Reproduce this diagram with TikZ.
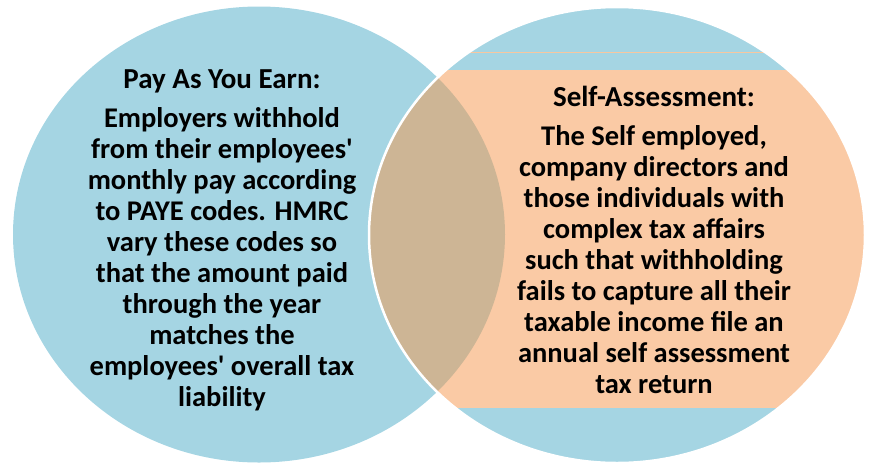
\documentclass[tikz,border=0pt]{standalone}
\usepackage{fontspec}
\setmainfont{Carlito}
\definecolor{vennblue}{HTML}{A5D5E3}
\definecolor{vennorange}{HTML}{FACAA5}
\definecolor{venntan}{HTML}{CDB595}
\definecolor{bandline}{HTML}{F7C7A0}
\begin{document}
\begin{tikzpicture}[x=1pt,y=-1pt,
  bodytext/.style={font=\bfseries\fontsize{28.5}{31}\selectfont, align=center, inner sep=0pt, text=black},
  headtext/.style={font=\bfseries\fontsize{29}{31}\selectfont, inner sep=0pt, text=black},
  setedge/.style={draw=white, line width=2.5pt}]
\useasboundingbox (0,0) rectangle (873,464);

% the two sets
\coordinate (paye) at (259,234.5);
\coordinate (sa) at (617,235);
\def\leftset{(paye) ellipse [x radius=246pt, y radius=228pt]}
\def\rightset{(sa) ellipse [x radius=248pt, y radius=228pt]}

\fill[vennblue] \leftset;
\fill[vennblue] \rightset;

% orange band and thin rule inside the right set
\begin{scope}
  \clip \rightset;
  \fill[vennorange] (360,70) rectangle (880,408);
  \draw[bandline, line width=1.2pt] (360,52.3) -- (880,52.3);
\end{scope}

% overlap of the two sets
\begin{scope}
  \clip \leftset;
  \fill[venntan] \rightset;
\end{scope}

\draw[setedge] \rightset;

% texts
\node[headtext] (payehead) at (222,81) {Pay As You Earn:};
\node[bodytext] (payebody) at (222,259) {Employers withhold\\
from their employees\textquotesingle\\
monthly pay according\\
to PAYE codes. HMRC\\
vary these codes so\\
that the amount paid\\
through the year\\
matches the\\
employees\textquotesingle{} overall tax\\
liability};

\node[headtext] (sahead) at (654,96) {Self-Assessment:};
\node[bodytext] (sabody) at (654,259.5) {The Self employed,\\
company directors and\\
those individuals with\\
complex tax affairs\\
such that withholding\\
fails to capture all their\\
taxable income file an\\
annual self assessment\\
tax return};
\end{tikzpicture}
\end{document}
